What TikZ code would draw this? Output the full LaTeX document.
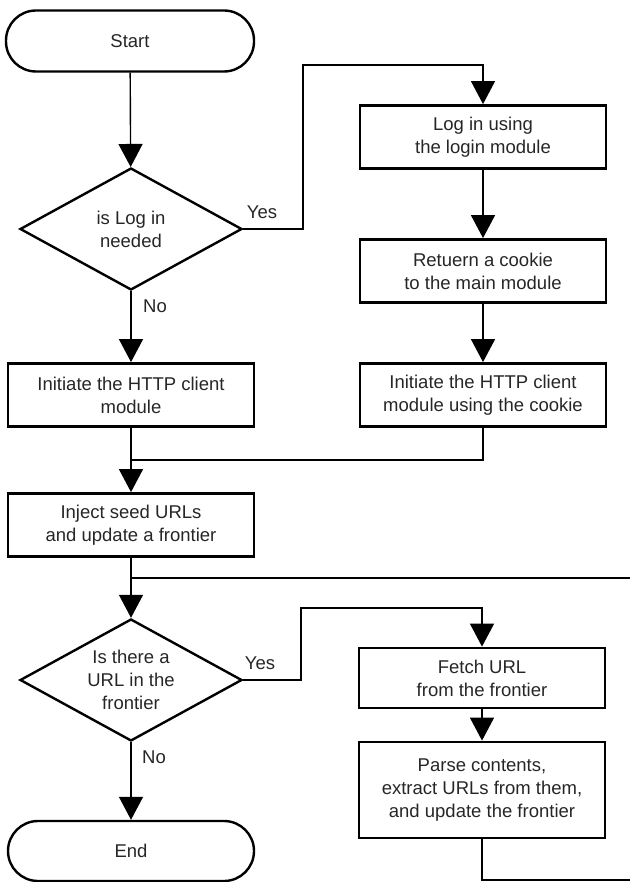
\documentclass[tikz,border=0pt]{standalone}
\usepackage{fontspec}
\setmainfont{Liberation Sans}
\usetikzlibrary{shapes.geometric,arrows.meta}

\begin{document}
\begin{tikzpicture}[x=1pt, y=-1pt,
                    every node/.style={font=\fontsize{18.5}{23}\selectfont, align=center, inner sep=0pt, text=black!85},
                    terminal/.style={draw, line width=2.4pt, rounded corners=30pt, minimum width=248pt, minimum height=61pt},
                    process/.style={draw, line width=2.8pt, minimum width=246pt, minimum height=63pt},
                    decision/.style={draw, diamond, line width=2.4pt, aspect=1.82, minimum width=222pt, minimum height=122pt},
                    edge_style/.style={draw=black, line width=1.4pt},
                    arrow_style/.style={edge_style, -{Triangle[length=23pt, width=24pt]}}]
                    \useasboundingbox (0,0) rectangle (629,882);
                    % left column
                    \node[terminal] (start) at (130,41) {Start};
                    \node[decision] (q1) at (131,229) {is Log in\\needed};
                    \node[process] (init) at (131,395) {Initiate the HTTP client\\module};
                    \node[process] (inject) at (131,525) {Inject seed URLs\\and update a frontier};
                    \node[decision] (q2) at (131,680) {Is there a\\URL in the\\frontier};
                    \node[terminal, minimum width=246pt, minimum height=60pt] (end) at (131,851) {End};
                    % right column
                    \node[process] (login) at (483,137) {Log in using\\the login module};
                    \node[process] (cookie) at (483,271) {Retuern a cookie\\to the main module};
                    \node[process] (initc) at (483,395) {Initiate the HTTP client\\module using the cookie};
                    \node[process, minimum height=60pt] (fetch) at (482,678) {Fetch URL\\from the frontier};
                    \node[process, minimum height=96pt] (parse) at (482,790) {Parse contents,\\extract URLs from them,\\and update the frontier};
                    % labels
                    \node (yes1) at (262,212) {Yes};
                    \node (no1) at (155,306) {No};
                    \node (yes2) at (260,663) {Yes};
                    \node (no2) at (154,757) {No};
                    % bends
                    \coordinate (c1) at (303,65);
                    \coordinate (m1) at (131,460);
                    \coordinate (m2) at (131,578);
                    \coordinate (c2) at (301,608);
                    \coordinate (c3) at (640,880);
                    \draw[arrow_style] (start) edge (q1);
                    \draw[arrow_style] (q1) edge (init);
                    \draw[arrow_style] (q1.east) -| (c1) -| (login.north);
                    \draw[arrow_style] (login) edge (cookie);
                    \draw[arrow_style] (cookie) edge (initc);
                    \draw[edge_style] (initc.south) |- (m1);
                    \draw[arrow_style] (init) edge (inject);
                    \draw[arrow_style] (inject) edge (q2);
                    \draw[arrow_style] (q2.east) -| (c2) -| (fetch.north);
                    \draw[arrow_style] (fetch) edge (parse);
                    \draw[edge_style] (parse.south) |- (c3) |- (m2);
                    \draw[arrow_style] (q2) edge (end);
                \end{tikzpicture}
\end{document}
